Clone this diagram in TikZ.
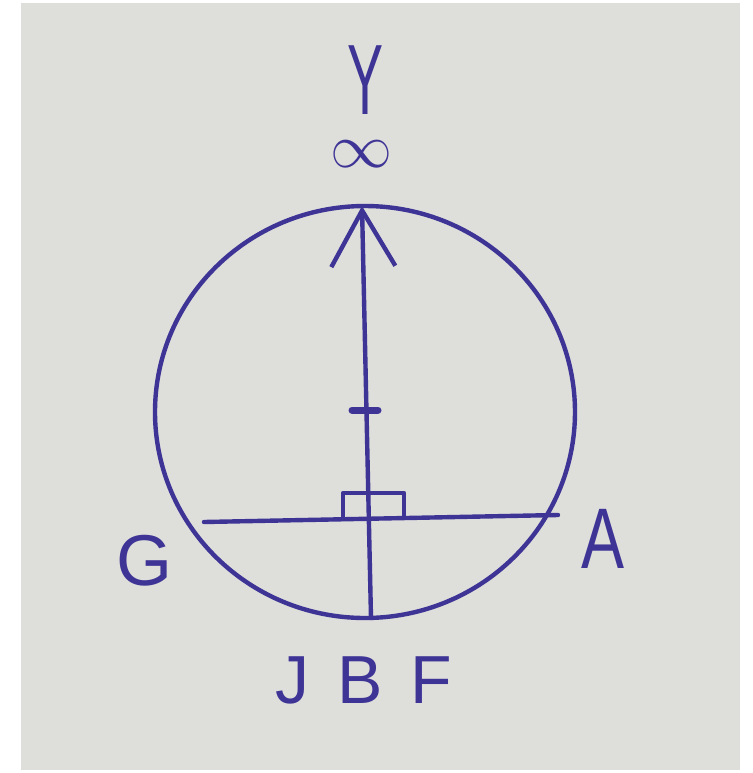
\documentclass[tikz,border=0pt]{standalone}
\usepackage{fontspec}
\setmainfont{Liberation Sans}
\usetikzlibrary{arrows.meta}
\definecolor{ink}{RGB}{62,52,150}
\definecolor{paper}{RGB}{222,222,219}

\begin{document}
\begin{tikzpicture}[x=0.5pt,y=-0.5pt,line width=2.2pt,line cap=round,line join=round,
    every node/.style={ink,inner sep=0pt}]
    \useasboundingbox (0,0) rectangle (752,773);
    \fill[paper] (21,3) rectangle (740,770);

    % Circle with its two poles
    \coordinate (centre) at (365,412);
    \coordinate (top) at (362,206);
    \coordinate (bottom) at (371,618);
    \draw[ink] (centre) ellipse [x radius=105pt, y radius=103pt];

    % Axis from JBF up to infinity, with its tick
    \draw[ink,-{Straight Barb[length=28pt,width=32pt]}] (bottom) -- (top);
    \draw[ink,line width=3.5pt] (352,410) -- (378,410);

    % Chord G--A and right-angle mark
    \coordinate (gEnd) at (204,522);
    \coordinate (aEnd) at (558,515);
    \draw[ink] (gEnd) -- (aEnd);
    \draw[ink] (343,519) -- (343,493) -- (404,493) -- (404,516);

    % Labels
    \node[font=\fontsize{50}{54}\selectfont,xscale=0.54] (Y) at (366,80) {Y};
    \node[scale=3.1] (inf) at (361,154) {$\infty$};
    \node[font=\fontsize{36}{40}\selectfont] (G) at (145,561) {G};
    \node[font=\fontsize{43}{46}\selectfont,xscale=0.75] (A) at (603,539) {A};
    \node[font=\fontsize{34}{38}\selectfont] (JBF) at (364,680) {J\kern14pt B\kern14pt F};
\end{tikzpicture}
\end{document}
